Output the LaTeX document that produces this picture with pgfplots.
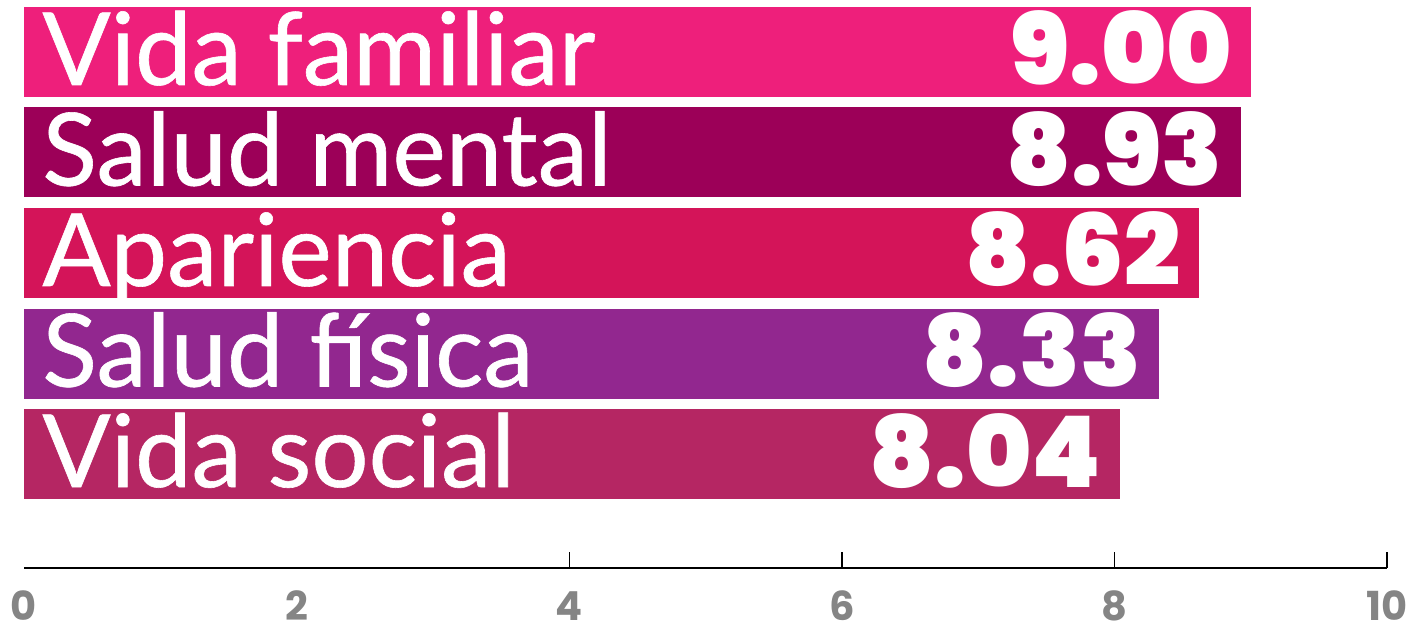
\documentclass[border=0pt]{standalone}
\usepackage{fontspec}
\usepackage{pgfplots}
\pgfplotsset{compat=1.18}
\setmainfont{Lato}
\newfontfamily\catfont{Lato}[FakeBold=0.6]
\newfontfamily\numfont{Poppins}[BoldFont={Poppins Black}]
\newfontfamily\tickfont{Poppins}

\definecolor{c1}{HTML}{EE1F7B}
\definecolor{c2}{HTML}{9C0058}
\definecolor{c3}{HTML}{D41459}
\definecolor{c4}{HTML}{92278F}
\definecolor{c5}{HTML}{B52663}
\definecolor{tickgray}{HTML}{858585}

\begin{document}
\begin{tikzpicture}[cat/.style={anchor=base west, inner sep=0pt, xshift=9bp, yshift=-16.5bp, text=white, font=\catfont\fontsize{50.5bp}{50bp}\selectfont}]
\useasboundingbox (0,0) rectangle (711bp,313bp);
\begin{axis}[
  at={(12bp,29bp)}, anchor=south west,
  scale only axis, width=681.5bp, height=284bp,
  xmin=0, xmax=10, ymin=0.483, ymax=6.134,
  y dir=reverse,
  axis x line*=bottom, axis y line=none,
  axis line style={line width=0.8bp, -},
  /pgf/number format/assume math mode=true,
  xtick={4,6,8,10},
  extra x ticks={0,2},
  extra x tick style={major tick length=0pt},
  tick align=inside,
  major tick length=8bp,
  tick style={line width=0.7bp, black},
  xticklabel style={anchor=base, inner sep=0pt, text depth=0pt, yshift=-26bp, font=\tickfont\bfseries\fontsize{20bp}{20bp}\selectfont, text=tickgray},
  xbar, bar width=45bp, bar shift=0pt,
  clip=false,
  nodes near coords={\pgfmathprintnumber[fixed,zerofill,precision=2,assume math mode=true]{\pgfplotspointmeta}},
  nodes near coords style={anchor=base east, inner sep=0pt, xshift=-9bp, yshift=-16.5bp, text=white, font=\numfont\bfseries\fontsize{49.5bp}{49.5bp}\selectfont},
]
\addplot[fill=c1, draw=none] coordinates {(9.00,1)};
\addplot[fill=c2, draw=none] coordinates {(8.93,2)};
\addplot[fill=c3, draw=none] coordinates {(8.62,3)};
\addplot[fill=c4, draw=none] coordinates {(8.33,4)};
\addplot[fill=c5, draw=none] coordinates {(8.04,5)};
\node[cat] at (axis cs:0,1) {Vida familiar};
\node[cat] at (axis cs:0,2) {Salud mental};
\node[cat] at (axis cs:0,3) {Apariencia};
\node[cat] at (axis cs:0,4) {Salud física};
\node[cat] at (axis cs:0,5) {Vida social};
\end{axis}
\end{tikzpicture}
\end{document}
